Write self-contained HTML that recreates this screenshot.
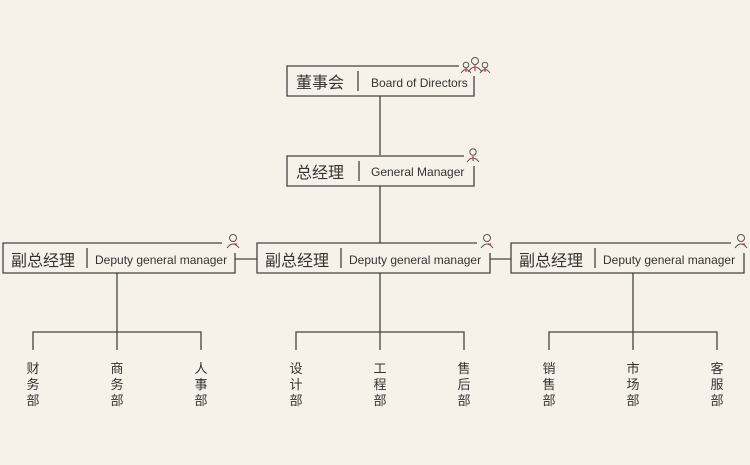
<!DOCTYPE html>
<html><head><meta charset="utf-8"><style>
html,body{margin:0;padding:0;background:#f7f2e9;}
svg{display:block}
text{font-family:"Liberation Sans","Noto Sans CJK SC",sans-serif;fill:#333}
</style></head><body>
<svg width="750" height="465" viewBox="0 0 750 465" xmlns="http://www.w3.org/2000/svg">
<rect width="750" height="465" fill="#f7f2e9"/>
<g stroke="#444" stroke-width="1.3" fill="none">
<path d="M459,66 H287 V96 H474 V76"/>
<line x1="380" y1="96" x2="380" y2="155"/>
<path d="M464,156 H287 V186 H474 V166"/>
<line x1="380" y1="186" x2="380" y2="243"/>
<path d="M222,243 H3 V273 H235 V253"/>
<path d="M477,243 H257 V273 H490 V253"/>
<path d="M731,243 H511 V273 H744 V253"/>
<line x1="235" y1="259" x2="257" y2="259"/>
<line x1="490" y1="259" x2="511" y2="259"/>
<line x1="358" y1="71" x2="358" y2="91"/>
<line x1="359" y1="161" x2="359" y2="181"/>
<line x1="87" y1="248" x2="87" y2="268"/>
<line x1="341" y1="248" x2="341" y2="268"/>
<line x1="595" y1="248" x2="595" y2="268"/>
<path d="M117,273 V350 M33,350 V332 H201 V350"/>
<path d="M380,273 V350 M296,350 V332 H464 V350"/>
<path d="M633,273 V350 M549,350 V332 H717 V350"/>
</g>
<g stroke="#555" stroke-width="1" fill="none">
<circle cx="475" cy="61" r="3.5"/><path d="M468,72 Q475,62 482,72"/>
<circle cx="466" cy="65" r="2.8"/><path d="M461,73 Q466,66 471,73"/>
<circle cx="485" cy="65" r="2.8"/><path d="M480,73 Q485,66 490,73"/>
<circle cx="473" cy="152" r="3.2"/><path d="M467,162 Q473,154 479,162"/>
<circle cx="233" cy="238" r="3.5"/><path d="M227,248 Q233,240 239,248"/>
<circle cx="487" cy="238" r="3.5"/><path d="M481,248 Q487,240 493,248"/>
<circle cx="741" cy="238" r="3.5"/><path d="M735,248 Q741,240 747,248"/>
</g>
<g stroke="#d33" stroke-width="1.2">
<line x1="466" y1="68" x2="466" y2="72"/><line x1="475" y1="65" x2="475" y2="71"/><line x1="485" y1="68" x2="485" y2="72"/>
<line x1="473" y1="156" x2="473" y2="161"/>
<line x1="234" y1="244" x2="237" y2="244"/><line x1="488" y1="244" x2="491" y2="244"/><line x1="742" y1="244" x2="745" y2="244"/>
</g>
<g font-size="16">
<text x="296" y="88">董事会</text>
<text x="296" y="178">总经理</text>
<text x="11" y="266">副总经理</text>
<text x="265" y="266">副总经理</text>
<text x="519" y="266">副总经理</text>
</g>
<g font-size="12">
<text x="371" y="87">Board of Directors</text>
<text x="371" y="176">General Manager</text>
<text x="95" y="264">Deputy general manager</text>
<text x="349" y="264">Deputy general manager</text>
<text x="603" y="264">Deputy general manager</text>
</g>
<g font-size="13" text-anchor="middle">
<text x="33" y="373">财</text><text x="33" y="389">务</text><text x="33" y="405">部</text>
<text x="117" y="373">商</text><text x="117" y="389">务</text><text x="117" y="405">部</text>
<text x="201" y="373">人</text><text x="201" y="389">事</text><text x="201" y="405">部</text>
<text x="296" y="373">设</text><text x="296" y="389">计</text><text x="296" y="405">部</text>
<text x="380" y="373">工</text><text x="380" y="389">程</text><text x="380" y="405">部</text>
<text x="464" y="373">售</text><text x="464" y="389">后</text><text x="464" y="405">部</text>
<text x="549" y="373">销</text><text x="549" y="389">售</text><text x="549" y="405">部</text>
<text x="633" y="373">市</text><text x="633" y="389">场</text><text x="633" y="405">部</text>
<text x="717" y="373">客</text><text x="717" y="389">服</text><text x="717" y="405">部</text>
</g>
</svg>
</body></html>
